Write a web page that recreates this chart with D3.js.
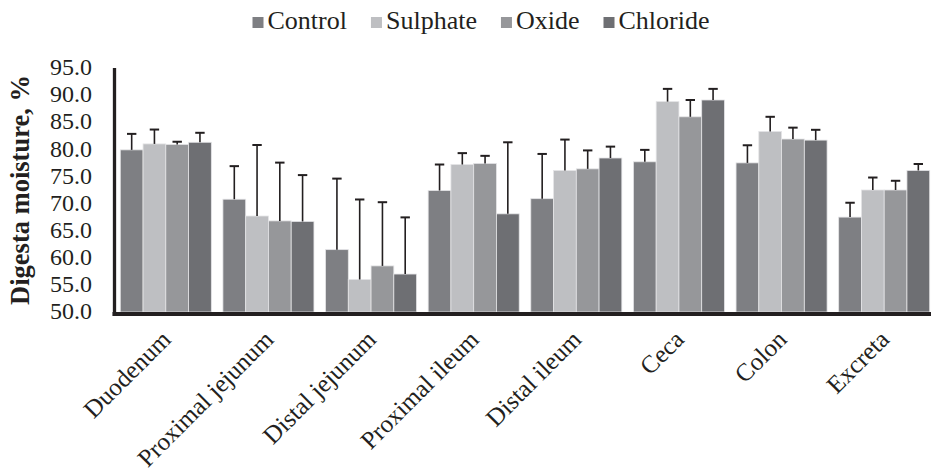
<!DOCTYPE html>
<html>
<head>
<meta charset="utf-8">
<script src="https://cdn.jsdelivr.net/npm/d3@7"></script>
<style>
  body { margin: 0; background: #fff; }
  text { font-family: "Liberation Serif", "Times New Roman", serif; fill: #231f20; }
</style>
</head>
<body>
<div id="chart"></div>
<script>
// sections of the gut
const categories = ['Duodenum', 'Proximal jejunum', 'Distal jejunum', 'Proximal ileum', 'Distal ileum', 'Ceca', 'Colon', 'Excreta'];
const seriesNames = ['Control', 'Sulphate', 'Oxide', 'Chloride'];

// mean digesta moisture, % (one array per treatment)
const control = [79.9, 70.8, 61.5, 72.4, 70.9, 77.7, 77.5, 67.5];
const sulphate = [81.0, 67.7, 56.0, 77.2, 76.1, 88.8, 83.3, 72.5];
const oxide = [80.9, 66.8, 58.5, 77.4, 76.4, 86.0, 81.9, 72.5];
const chloride = [81.3, 66.7, 57.0, 68.1, 78.4, 89.1, 81.7, 76.1];

// standard errors (upper bars only)
const controlErr = [2.95, 6.1, 13.1, 4.8, 8.25, 2.2, 3.25, 2.65];
const sulphateErr = [2.65, 13.1, 14.75, 2.1, 5.7, 2.35, 2.7, 2.3];
const oxideErr = [0.5, 10.75, 11.75, 1.4, 3.4, 3.1, 2.1, 1.7];
const chlorideErr = [1.75, 8.55, 10.45, 13.2, 2.1, 2.05, 1.9, 1.2];

const yTicks = [50, 55, 60, 65, 70, 75, 80, 85, 90, 95];
const colors = ['#7e7f83', '#bebfc2', '#96979a', '#6e6f73'];

const values = [control, sulphate, oxide, chloride];
const errors = [controlErr, sulphateErr, oxideErr, chlorideErr];

const rows = [];
categories.forEach((c, i) => {
  seriesNames.forEach((s, j) => {
    rows.push({ cat: c, series: s, value: values[j][i], err: errors[j][i], color: colors[j] });
  });
});

const width = 931;
const height = 474;
const svg = d3.select('#chart').append('svg').attr('width', width).attr('height', height);

const x0 = d3.scaleBand().domain(categories).range([114.5, 935.5]).paddingInner(0.113).paddingOuter(0.0565);
const x1 = d3.scaleBand().domain(seriesNames).range([0, x0.bandwidth()]);
const y = d3.scaleLinear().domain([50, 95]).range([312, 68]);

// bars
svg
  .selectAll('.bar')
  .data(rows)
  .enter()
  .append('rect')
  .attr('class', 'bar')
  .attr('x', (d) => x0(d.cat) + x1(d.series))
  .attr('y', (d) => y(d.value))
  .attr('width', x1.bandwidth())
  .attr('height', (d) => y(50) - y(d.value))
  .attr('fill', (d) => d.color)
  .attr('stroke', '#e4e4e6')
  .attr('stroke-width', 0.8);

// error bars
const err = svg.append('g').attr('stroke', '#231f20');
err
  .selectAll('.err-line')
  .data(rows)
  .enter()
  .append('line')
  .attr('x1', (d) => x0(d.cat) + x1(d.series) + x1.bandwidth() / 2)
  .attr('x2', (d) => x0(d.cat) + x1(d.series) + x1.bandwidth() / 2)
  .attr('y1', (d) => y(d.value))
  .attr('y2', (d) => y(d.value + d.err))
  .attr('stroke-width', 1.6);
err
  .selectAll('.err-cap')
  .data(rows)
  .enter()
  .append('line')
  .attr('x1', (d) => x0(d.cat) + x1(d.series) + x1.bandwidth() / 2 - 4.7)
  .attr('x2', (d) => x0(d.cat) + x1(d.series) + x1.bandwidth() / 2 + 4.7)
  .attr('y1', (d) => y(d.value + d.err))
  .attr('y2', (d) => y(d.value + d.err))
  .attr('stroke-width', 2);

// axes lines
svg.append('line').attr('x1', 112.5).attr('x2', 931).attr('y1', 314).attr('y2', 314)
  .attr('stroke', '#231f20').attr('stroke-width', 4);
svg.append('line').attr('x1', 114.5).attr('x2', 114.5).attr('y1', y(95)).attr('y2', 316)
  .attr('stroke', '#231f20').attr('stroke-width', 3.3);

// y tick labels
svg
  .selectAll('.ytick')
  .data(yTicks)
  .enter()
  .append('text')
  .attr('x', 92)
  .attr('y', (d) => y(d))
  .attr('dy', '0.3em')
  .attr('text-anchor', 'end')
  .style('font-size', '24px')
  .text((d) => d.toFixed(1));

// y title
svg
  .append('text')
  .attr('transform', `translate(29, ${(y(95) + y(50)) / 2}) rotate(-90)`)
  .attr('text-anchor', 'middle')
  .style('font-size', '26.5px')
  .style('font-weight', 'bold')
  .text('Digesta moisture, %');

// x labels
svg
  .selectAll('.xlabel')
  .data(categories)
  .enter()
  .append('text')
  .attr('transform', (d) => `translate(${x0(d) + x0.bandwidth() / 2 + 6.5}, 341) rotate(-45)`)
  .attr('text-anchor', 'end')
  .style('font-size', '25px')
  .text((d) => d);

// legend
const legend = svg.append('g');
let lx = 0;
seriesNames.forEach((s, j) => {
  legend.append('rect').attr('x', lx).attr('y', 17).attr('width', 11).attr('height', 11).attr('fill', colors[j]);
  const t = legend.append('text').attr('x', lx + 15).attr('y', 29).style('font-size', '26px').text(s);
  lx += 15 + t.node().getComputedTextLength() + 24;
});
const legendWidth = lx - 24;
legend.attr('transform', `translate(${481 - legendWidth / 2}, 0)`);
</script>
</body>
</html>
